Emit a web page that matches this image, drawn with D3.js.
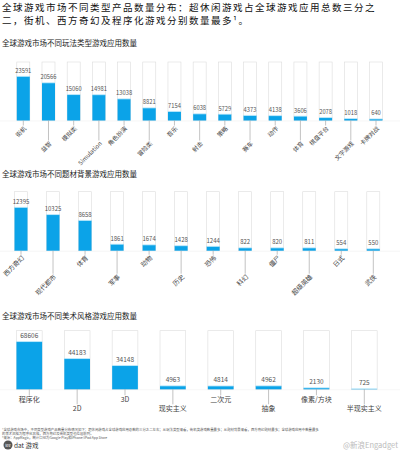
<!DOCTYPE html>
<html>
<head>
<meta charset="utf-8">
<script src="https://cdn.jsdelivr.net/npm/d3@7"></script>
<style>
	body { margin: 0; background: #fff; }
	svg { display: block; font-family: "Noto Sans CJK SC", "Noto Sans", sans-serif; }
</style>
</head>
<body>
<svg width="400" height="463"></svg>
<script>
// Chart 1: gameplay types
const playTypes = ["街机", "益智", "模拟类", "Simulation", "角色扮演", "冒险类", "音乐", "射击",
	"策略", "赛车", "动作", "体育", "棋盘平台", "文字游戏", "卡牌对战"];
const playCounts = [23591, 20566, 15060, 14981, 13038, 8821, 7154, 6038, 5729, 4373, 4138, 3606, 2078, 1018, 640];

// Chart 2: themes
const themes = ["西方奇幻", "现代都市", "体育", "军事", "动物", "历史", "恐怖", "科幻", "僵尸", "超级英雄", "日式", "武侠"];
const themeCounts = [12395, 10325, 8658, 1861, 1674, 1428, 1244, 822, 820, 811, 554, 550];

// Chart 3: art styles
const artStyles = ["程序化", "2D", "3D", "现实主义", "二次元", "抽象", "像素/方块", "半现实主义"];
const artCounts = [68606, 44183, 34148, 4963, 4814, 4962, 2130, 725];

const svg = d3.select("svg");
const blue = "#0ba3e8";

// Title, two lines as in the report
const titleLines = ["全球游戏市场不同类型产品数量分布：超休闲游戏占全球游戏应用总数三分之",
	"二，街机、西方奇幻及程序化游戏分别数量最多¹。"];
svg.selectAll(".title").data(titleLines).enter().append("text")
	.attr("x", 2).attr("y", (d, i) => 10.5 + i * 13.9)
	.attr("font-size", 9.5).attr("letter-spacing", 1.5).attr("fill", "#111")
	.text(d => d);

/**
 * draws one block of framed bars
 */
function drawBars(opt) {
	const g = svg.append("g");

	g.append("text").attr("x", 2).attr("y", opt.titleY).attr("font-size", 7.5).attr("fill", "#222")
		.text(opt.title);

	const x = d3.scalePoint().domain(opt.cats).range(opt.xRange);
	const y = d3.scaleLinear().domain(opt.domain).range(opt.range).clamp(true);
	const data = opt.cats.map((c, i) => ({ c, v: opt.vals[i], i }));
	const w = opt.barW;

	// light baseline
	g.append("line").attr("x1", 0).attr("x2", 400)
		.attr("y1", opt.base + 0.5).attr("y2", opt.base + 0.5)
		.attr("stroke", "#f0f0f0").attr("stroke-width", 0.6);

	const item = g.selectAll(".item").data(data).enter().append("g");

	// empty frame
	item.append("rect")
		.attr("x", d => x(d.c) - w / 2).attr("y", opt.top)
		.attr("width", w).attr("height", opt.base - opt.top)
		.attr("fill", "#fff").attr("stroke", "#dcdcdc").attr("stroke-width", 0.6);

	item.append("rect")
		.attr("x", d => x(d.c) - w / 2).attr("y", d => y(d.v))
		.attr("width", w).attr("height", d => opt.base - y(d.v))
		.attr("fill", blue);

	// pale edge at bar top
	item.append("line")
		.attr("x1", d => x(d.c) - w / 2).attr("x2", d => x(d.c) + w / 2)
		.attr("y1", d => y(d.v)).attr("y2", d => y(d.v))
		.attr("stroke", "#c8ecfb").attr("stroke-width", 0.8);

	item.append("text")
		.attr("x", d => x(d.c)).attr("y", d => y(d.v) - 3.5)
		.attr("text-anchor", "middle").attr("font-size", opt.valSize).attr("fill", "#555")
		.text(d => d.v);

	// leader lines, alternately short and long so labels do not collide
	const lineEnd = d => opt.base + (d.i % 2 === 0 ? opt.shortLen : opt.longLen);
	item.append("line")
		.attr("x1", d => x(d.c)).attr("x2", d => x(d.c))
		.attr("y1", opt.base).attr("y2", lineEnd)
		.attr("stroke", "#9a9a9a").attr("stroke-width", 0.6);

	if (opt.rotate) {
		item.append("text")
			.attr("transform", d => `translate(${x(d.c) + 2},${lineEnd(d) + 2}) rotate(-45)`)
			.attr("text-anchor", "end").attr("dy", "0.35em")
			.attr("font-size", opt.labSize).attr("fill", "#444")
			.text(d => d.c);
	} else {
		item.append("text")
			.attr("x", d => x(d.c)).attr("y", d => lineEnd(d) + 7)
			.attr("text-anchor", "middle")
			.attr("font-size", opt.labSize).attr("fill", "#444")
			.text(d => d.c);
	}
}

drawBars({
	title: "全球游戏市场不同玩法类型游戏应用数量", titleY: 46,
	cats: playTypes, vals: playCounts,
	xRange: [23.3, 376], barW: 13,
	top: 62, base: 120.5,
	domain: [0, 6000, 30300], range: [119.5, 113.9, 62],
	valSize: 5.8, labSize: 6, rotate: true, shortLen: 5, longLen: 20
});

drawBars({
	title: "全球游戏市场不同题材背景游戏应用数量", titleY: 177,
	cats: themes, vals: themeCounts,
	xRange: [21, 373.3], barW: 13,
	top: 191.7, base: 250.7,
	domain: [0, 16860], range: [250.7, 191.7],
	valSize: 6, labSize: 6.5, rotate: true, shortLen: 4, longLen: 23
});

drawBars({
	title: "全球游戏市场不同美术风格游戏应用数量", titleY: 319,
	cats: artStyles, vals: artCounts,
	xRange: [29.3, 364.3], barW: 25.7,
	top: 330.7, base: 389.3,
	domain: [0, 84200], range: [389.3, 330.7],
	valSize: 6.5, labSize: 7, rotate: false, shortLen: 6, longLen: 15
});

// footnotes
const notes = [
	"¹全球游戏市场中，不同类型游戏产品数量分布情况如下：超休闲游戏占全球游戏应用总数的三分之二左右；从玩法类型来看，街机类游戏数量最多；从题材背景来看，西方奇幻题材最多；全球游戏应用中数量最多",
	"的美术风格为程序化风格，西方奇幻及街机类型也位居前列。",
	"²来源：AppMagic，统计口径为Google Play和iPhone/iPad App Store"
];
svg.selectAll(".note").data(notes).enter().append("text")
	.attr("x", 2).attr("y", (d, i) => 431 + i * 4)
	.attr("font-size", 3.4).attr("fill", "#555")
	.text(d => d);

svg.append("circle").attr("cx", 8).attr("cy", 445).attr("r", 4.5).attr("fill", "#555");
svg.append("text").attr("x", 8).attr("y", 446.5).attr("text-anchor", "middle")
	.attr("font-size", 4).attr("fill", "#fff").text("lee");
svg.append("text").attr("x", 14).attr("y", 447.5).attr("font-size", 6.5).attr("fill", "#333")
	.text("dat 游戏");

svg.append("text").attr("x", 398).attr("y", 448).attr("text-anchor", "end")
	.attr("font-size", 7.5).attr("fill", "#bbb").text("@新浪Engadget");
</script>
</body>
</html>
